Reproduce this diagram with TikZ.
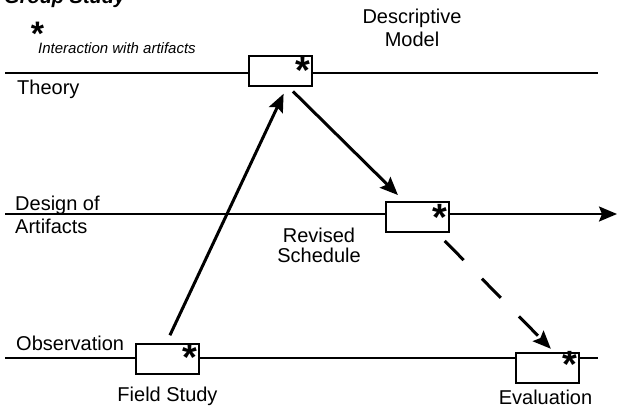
\documentclass[tikz,border=0pt]{standalone}
\usepackage{fontspec}
\setmainfont{Liberation Sans}
\usetikzlibrary{arrows.meta, positioning}

\tikzset{
  track/.style={line width=2.2pt},
  stage/.style={draw, line width=2pt, fill=white, minimum width=63pt,
    minimum height=30pt, inner sep=0pt},
  astk/.style={font=\fontsize{38}{38}\selectfont\bfseries, inner sep=0pt, anchor=base},
  lbl/.style={font=\fontsize{20}{22.5}\selectfont, inner sep=0pt, align=center},
  flow/.style={->, line width=3pt},
}

\begin{document}
\begin{tikzpicture}[x=1pt, y=-1pt,
                    >={Stealth[length=18pt,width=15pt,inset=3pt]}]
\useasboundingbox (0,0) rectangle (618,408);
% the three levels
\coordinate (th-w) at (5,73);
\coordinate (th-e) at (598,73);
\coordinate (ds-w) at (5,214);
\coordinate (ds-e) at (617,214);
\coordinate (ob-w) at (5,358);
\coordinate (ob-e) at (598,358);
\draw[track] (th-w) -- (th-e);
\draw[track,->] (ds-w) -- (ds-e);
\draw[track] (ob-w) -- (ob-e);

\node[stage] (dm) at (280,70.5) {};
\node[stage] (rs) at (417,217) {};
\node[stage] (fs) at (167.5,358.5) {};
\node[stage] (ev) at (547.5,368) {};

\node[astk] (dm-s) at ([xshift=-10pt,yshift=-29pt]dm.north east) {*};
\node[astk] (rs-s) at ([xshift=-10pt,yshift=-29pt]rs.north east) {*};
\node[astk] (fs-s) at ([xshift=-10pt,yshift=-28pt]fs.north east) {*};
\node[astk] (ev-s) at ([xshift=-10pt,yshift=-25pt]ev.north east) {*};

\draw[flow, shorten <=8pt, shorten >=8pt] ([xshift=-1pt]fs.north) -- ([xshift=7pt]dm.south);
\draw[flow, shorten <=7pt, shorten >=8.5pt] ([xshift=8pt]dm.south) -- ([xshift=-13pt]rs.north);
\draw[flow, dash pattern=on 27pt off 26pt, shorten <=11pt, shorten >=4.5pt]
  ([xshift=20pt]rs.south) -- ([xshift=6.5pt]ev.north);

% labels
\node[lbl, anchor=base west] (th-l) at (17,94) {Theory};
\node[lbl, anchor=north west, align=left] (ds-l) at (15,196) {Design of\\Artifacts};
\node[lbl, anchor=base west] (ob-l) at (16,350) {Observation};
\node[lbl, anchor=north] (dm-l) at (412,9) {Descriptive\\Model};
\node[lbl, anchor=north, font=\fontsize{20}{19.5}\selectfont] (rs-l) at (319,228) {Revised\\Schedule};
\node[lbl, below=12pt of fs] (fs-l) {Field Study};
\node[lbl, below=6pt of ev, xshift=-2pt] (ev-l) {Evaluation};

\node[font=\fontsize{20}{24}\selectfont\bfseries\itshape, inner sep=0pt,
      anchor=base west] (title) at (4,3) {Group Study};
\node[astk, font=\fontsize{34}{34}\selectfont\bfseries] (key-s) at (37.5,45) {*};
\node[font=\fontsize{15}{17}\selectfont\itshape, inner sep=0pt,
      anchor=base west] (key-l) at (38,53) {Interaction with artifacts};
\end{tikzpicture}
\end{document}
